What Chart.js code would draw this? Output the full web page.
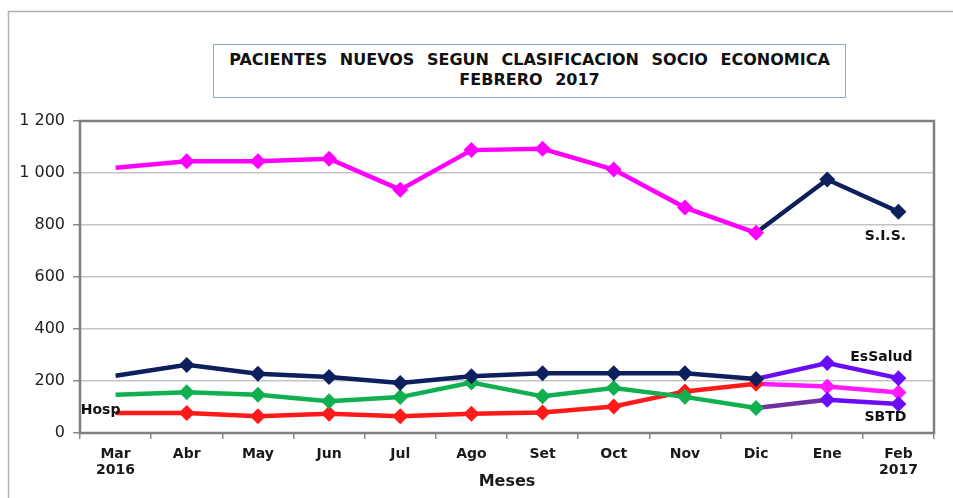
<!DOCTYPE html>
<html><head><meta charset="utf-8">
<script src="https://cdn.jsdelivr.net/npm/chart.js@4"></script>
<style>
html,body{margin:0;padding:0;background:#fff;}
#wrap{position:relative;width:953px;height:498px;overflow:hidden;}
canvas{position:absolute;left:0;top:0;}
#title{position:absolute;left:213px;top:44px;width:633px;height:54px;border:1.5px solid #8eaadb;box-sizing:border-box;
 font-family:"DejaVu Sans";font-weight:bold;font-size:16px;text-align:center;line-height:20px;padding-top:5px;word-spacing:7px;color:#111;background:#fff;}
</style></head>
<body>
<div id="wrap">
<canvas id="c" width="953" height="498"></canvas>
<div id="title">PACIENTES NUEVOS SEGUN CLASIFICACION SOCIO ECONOMICA<br>FEBRERO 2017</div>
</div>
<script>
const months = [['Mar','2016'],'Abr','May','Jun','Jul','Ago','Set','Oct','Nov','Dic','Ene',['Feb','2017']];
const yTicks = [0,200,400,600,800,1000,1200];

const sisPink       = [1020,1045,1045,1055,936,1088,1093,1013,867,770,null,null];
const sisNavy       = [null,null,null,null,null,null,null,null,null,770,975,851];
const essaludNavy   = [220,262,228,215,192,218,230,230,230,208,null,null];
const essaludViolet = [null,null,null,null,null,null,null,null,null,208,269,211];
const sbtdGreen     = [147,157,147,122,138,194,141,173,139,96,null,null];
const sbtdViolet    = [null,null,null,null,null,null,null,null,null,96,128,112];
const hospRed       = [77,77,64,74,64,74,79,102,160,189,null,null];
const hospPink      = [null,null,null,null,null,null,null,null,null,189,179,156];

const seriesLabels = [
  {text:'S.I.S.',  ds:1, idx:11, dx:-13, dy:25},
  {text:'EsSalud', ds:3, idx:11, dx:-17, dy:-21},
  {text:'SBTD',    ds:5, idx:11, dx:-13, dy:13},
  {text:'Hosp',    ds:6, idx:0,  dx:-15, dy:-3}
];

function firstIdx(arr){ return arr.findIndex(v => v !== null); }
function mk(data, color, extra){
  const f = firstIdx(data);
  return Object.assign({
    data, borderColor:color, backgroundColor:color, borderWidth:4.5,
    pointStyle:'rectRot', pointBorderWidth:0,
    pointRadius: c => c.dataIndex === f ? 0 : 8,
    pointBackgroundColor: color, spanGaps:false, tension:0, clip:false
  }, extra||{});
}

const framePlugin = {
  id:'frame',
  beforeDraw(chart){
    const c = chart.ctx; c.save();
    c.strokeStyle = '#b3b3b3'; c.lineWidth = 1.5;
    c.beginPath(); c.moveTo(8.5,498); c.lineTo(8.5,11.5); c.lineTo(953,11.5); c.stroke();
    c.restore();
  },
  beforeDatasetsDraw(chart){
    const a = chart.chartArea, c = chart.ctx; c.save();
    c.strokeStyle = '#7f7f7f'; c.lineWidth = 2.5;
    c.strokeRect(a.left, a.top, a.right - a.left, a.bottom - a.top);
    c.restore();
  },
  afterDatasetsDraw(chart){
    const c = chart.ctx; c.save();
    c.font = 'bold 14px "DejaVu Sans"'; c.fillStyle = '#111';
    c.textAlign = 'center'; c.textBaseline = 'middle';
    seriesLabels.forEach(l => {
      const p = chart.getDatasetMeta(l.ds).data[l.idx];
      c.fillText(l.text, p.x + l.dx, p.y + l.dy);
    });
    c.restore();
  }
};

new Chart(document.getElementById('c'), {
  type:'line',
  data:{ labels: months, datasets:[
    mk(sisPink, '#ff00ff'),
    mk(sisNavy, '#0d1f5c'),
    mk(essaludNavy, '#0d1f5c'),
    mk(essaludViolet, '#6a0cf5'),
    mk(sbtdGreen, '#10b050'),
    mk(sbtdViolet, '#6a0cf5', {segment:{borderColor: s => s.p0DataIndex === 9 ? '#7030a0' : '#6a0cf5'}}),
    mk(hospRed, '#ff1a1a'),
    mk(hospPink, '#ff1aff')
  ]},
  options:{
    responsive:false, animation:false, events:[],
    layout:{padding:{top:121, right:19, left:0, bottom:0}},
    plugins:{legend:{display:false}, tooltip:{enabled:false}, title:{display:false}},
    scales:{
      x:{
        offset:true,
        afterFit: s => { s.height = 65; },
        grid:{offset:true, drawOnChartArea:false, drawTicks:true, tickLength:6, tickColor:'#8c8c8c', lineWidth:1.5},
        border:{display:false},
        ticks:{font:{family:'DejaVu Sans', size:14, weight:'bold', lineHeight:1.1}, color:'#1a1a1a', padding:8, maxRotation:0, autoSkip:false},
        title:{display:true, text:'Meses', font:{family:'DejaVu Sans', size:16, weight:'bold'}, color:'#1a1a1a', padding:{top:0,bottom:7}}
      },
      y:{
        min:0, max:1200,
        afterFit: s => { s.width = 80; },
        afterBuildTicks: s => { s.ticks = yTicks.map(v => ({value:v})); },
        grid:{color:'#c4c4c4', lineWidth:1.5, tickLength:7, tickColor:'#8c8c8c'},
        border:{display:false},
        ticks:{font:{family:'DejaVu Sans', size:16}, color:'#222', padding:8,
          callback: v => String(v).replace(/\B(?=(\d{3})+(?!\d))/g, ' ')}
      }
    }
  },
  plugins:[framePlugin]
});
</script>
</body></html>
